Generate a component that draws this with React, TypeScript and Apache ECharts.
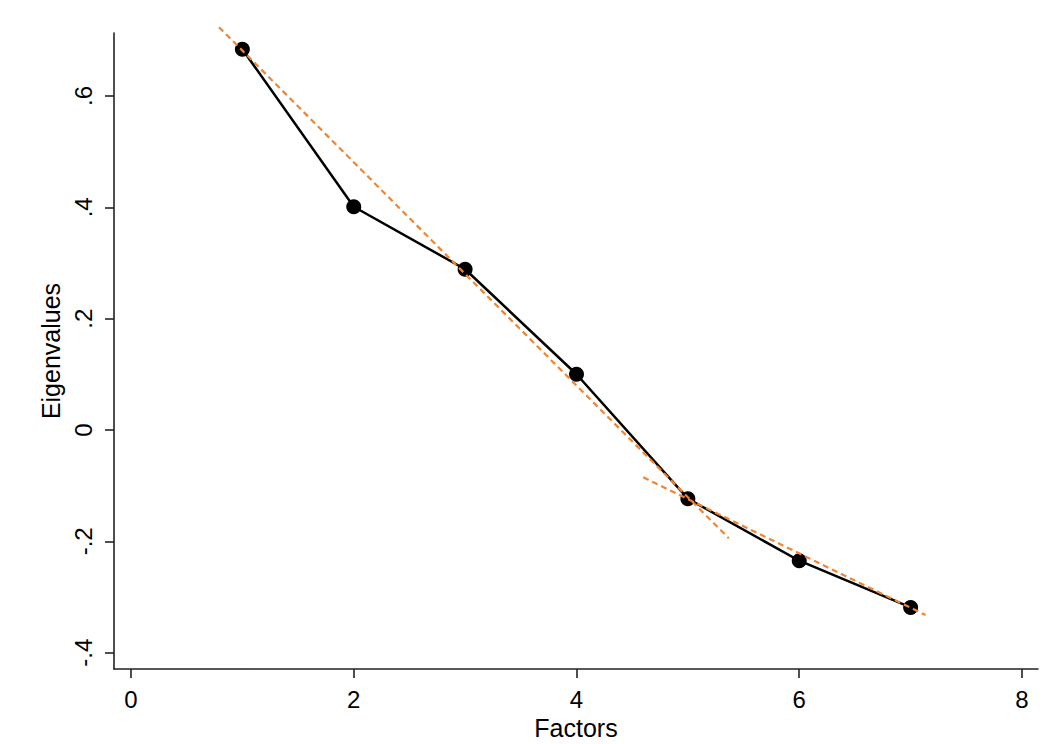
import React, { useEffect, useRef } from "react";
import * as echarts from "echarts";

const factors = [1, 2, 3, 4, 5, 6, 7];
const eigenvalues = [0.684, 0.401, 0.2888, 0.1001, -0.1234, -0.2348, -0.3187];

const fitLine1X = [0.79, 5.368];
const fitLine1Y = [0.7236, -0.1946];
const fitLine2X = [4.599, 7.134];
const fitLine2Y = [-0.085, -0.3324];

const xTickValues = [0, 2, 4, 6, 8];
const xTickLabels = ["0", "2", "4", "6", "8"];
const yTickValues = [-0.4, -0.2, 0, 0.2, 0.4, 0.6];
const yTickLabels = ["-.4", "-.2", "0", ".2", ".4", ".6"];

const FONT = "'Liberation Sans', Arial, Helvetica, sans-serif";
const ORANGE = "#EF8534";

function labelFor(values: number[], labels: string[], v: number) {
  const i = values.findIndex((t) => Math.abs(t - v) < 1e-6);
  return i >= 0 ? labels[i] : "";
}

export default function App() {
  const ref = useRef<HTMLDivElement>(null);
  useEffect(() => {
    if (!ref.current) return;
    const chart = echarts.init(ref.current, null, { renderer: "svg" });
    const axisLine = { show: true, onZero: false, lineStyle: { color: "#222", width: 1.6 } };
    chart.setOption({
      animation: false,
      backgroundColor: "#fff",
      textStyle: { fontFamily: FONT },
      grid: { left: 114, right: 21, top: 33, bottom: 75, outerBoundsMode: "none" },
      xAxis: {
        type: "value",
        min: -0.1526,
        max: 8.1437,
        name: "Factors",
        nameLocation: "middle",
        nameGap: 44,
        nameTextStyle: { fontFamily: FONT, fontSize: 25, color: "#000" },
        axisLine,
        axisTick: { show: true, length: 9, inside: false, customValues: xTickValues, lineStyle: { color: "#222", width: 1.6 } },
        axisLabel: {
          customValues: xTickValues,
          fontFamily: FONT,
          fontSize: 24,
          color: "#000",
          margin: 18,
          formatter: (v: number) => labelFor(xTickValues, xTickLabels, v),
        },
        splitLine: { show: false },
      },
      yAxis: {
        type: "value",
        min: -0.4293,
        max: 0.7131,
        name: "Eigenvalues",
        nameLocation: "middle",
        nameGap: 50,
        nameTextStyle: { fontFamily: FONT, fontSize: 25, color: "#000" },
        axisLine,
        axisTick: { show: true, length: 9, inside: false, customValues: yTickValues, lineStyle: { color: "#222", width: 1.6 } },
        axisLabel: {
          customValues: yTickValues,
          rotate: 90,
          fontFamily: FONT,
          fontSize: 24,
          color: "#000",
          margin: 19,
          formatter: (v: number) => labelFor(yTickValues, yTickLabels, v),
        },
        splitLine: { show: false },
      },
      series: [
        {
          type: "line",
          data: fitLine1X.map((x, i) => [x, fitLine1Y[i]]),
          symbol: "none",
          clip: false,
          lineStyle: { color: ORANGE, width: 2.2, type: [6, 4] },
          z: 3,
        },
        {
          type: "line",
          data: fitLine2X.map((x, i) => [x, fitLine2Y[i]]),
          symbol: "none",
          clip: false,
          lineStyle: { color: ORANGE, width: 2.2, type: [6, 4] },
          z: 3,
        },
        {
          type: "line",
          data: factors.map((x, i) => [x, eigenvalues[i]]),
          symbol: "circle",
          symbolSize: 15,
          itemStyle: { color: "#000" },
          lineStyle: { color: "#000", width: 2.5 },
          z: 2,
        },
      ],
    });
    return () => chart.dispose();
  }, []);
  return (
    <div
      ref={ref}
      style={{ position: "fixed", left: 0, top: 0, width: 1059, height: 744, background: "#fff" }}
    />
  );
}
